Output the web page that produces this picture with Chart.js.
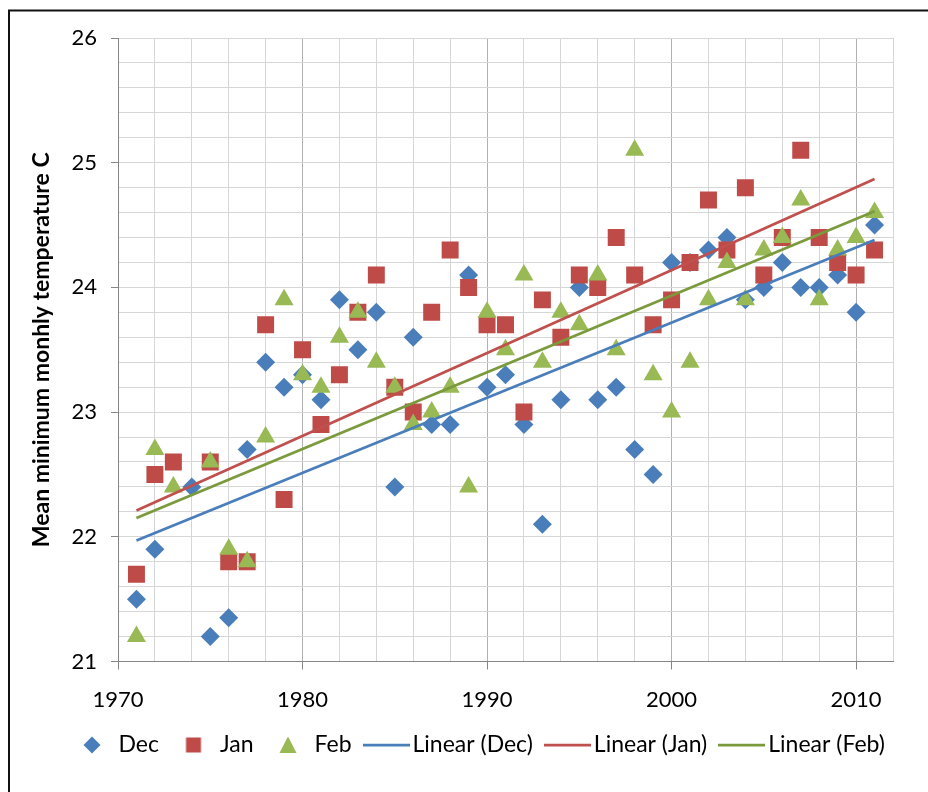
<!DOCTYPE html>
<html>
<head>
<meta charset="utf-8">
<style>
  html, body { margin: 0; padding: 0; background: #fff; }
  #wrap { width: 928px; height: 792px; }
</style>
<script src="https://cdn.jsdelivr.net/npm/chart.js@4/dist/chart.umd.min.js"></script>
</head>
<body>
<div id="wrap"><canvas id="chart" width="928" height="792"></canvas></div>
<script>
// Mean minimum monthly temperature (°C) for the summer months, by year
const years = [1971, 1972, 1973, 1974, 1975, 1976, 1977, 1978, 1979, 1980,
               1981, 1982, 1983, 1984, 1985, 1986, 1987, 1988, 1989, 1990,
               1991, 1992, 1993, 1994, 1995, 1996, 1997, 1998, 1999, 2000,
               2001, 2002, 2003, 2004, 2005, 2006, 2007, 2008, 2009, 2010, 2011];

const decTemps = [21.5, 21.9, null, 22.4, 21.2, 21.35, 22.7, 23.4, 23.2, 23.3,
                  23.1, 23.9, 23.5, 23.8, 22.4, 23.6, 22.9, 22.9, 24.1, 23.2,
                  23.3, 22.9, 22.1, 23.1, 24.0, 23.1, 23.2, 22.7, 22.5, 24.2,
                  24.2, 24.3, 24.4, 23.9, 24.0, 24.2, 24.0, 24.0, 24.1, 23.8, 24.5];

const janTemps = [21.7, 22.5, 22.6, null, 22.6, 21.8, 21.8, 23.7, 22.3, 23.5,
                  22.9, 23.3, 23.8, 24.1, 23.2, 23.0, 23.8, 24.3, 24.0, 23.7,
                  23.7, 23.0, 23.9, 23.6, 24.1, 24.0, 24.4, 24.1, 23.7, 23.9,
                  24.2, 24.7, 24.3, 24.8, 24.1, 24.4, 25.1, 24.4, 24.2, 24.1, 24.3];

const febTemps = [21.2, 22.7, 22.4, null, 22.6, 21.9, 21.8, 22.8, 23.9, 23.3,
                  23.2, 23.6, 23.8, 23.4, 23.2, 22.9, 23.0, 23.2, 22.4, 23.8,
                  23.5, 24.1, 23.4, 23.8, 23.7, 24.1, 23.5, 25.1, 23.3, 23.0,
                  23.4, 23.9, 24.2, 23.9, 24.3, 24.4, 24.7, 23.9, 24.3, 24.4, 24.6];

// linear trend lines: value at the first and last year
const trendYears = [1971, 2011];
const decTrend = [21.97, 24.38];
const janTrend = [22.21, 24.87];
const febTrend = [22.15, 24.61];

const seriesNames = ['Dec', 'Jan', 'Feb'];
const trendNames = ['Linear (Dec)', 'Linear (Jan)', 'Linear (Feb)'];
const yearTicks = [1970, 1980, 1990, 2000, 2010];
const tempTicks = [21, 22, 23, 24, 25, 26];
const yTitle = 'Mean minimum monhly temperature C';

// ---- styling ----
const FONT = 'Lato';
const markerColors = ['#4A7EBB', '#BE4B48', '#98B954'];
const trendColors = ['#4A7EBB', '#C0504D', '#7A9A3C'];

function points(xs, values) {
  const out = [];
  xs.forEach((x, i) => { if (values[i] !== null) out.push({ x: x, y: values[i] }); });
  return out;
}

// small images used as legend symbols
function markerImage(kind, color) {
  const c = document.createElement('canvas');
  c.width = 20; c.height = 20;
  const g = c.getContext('2d');
  g.fillStyle = color;
  g.beginPath();
  if (kind === 'diamond') {
    g.moveTo(10, 1.5); g.lineTo(18.5, 10); g.lineTo(10, 18.5); g.lineTo(1.5, 10);
  } else if (kind === 'square') {
    g.rect(2.5, 2.5, 15, 15);
  } else {
    g.moveTo(10, 1.5); g.lineTo(18.5, 18); g.lineTo(1.5, 18);
  }
  g.closePath();
  g.fill();
  return c;
}
function lineImage(color) {
  const c = document.createElement('canvas');
  c.width = 47; c.height = 6;
  const g = c.getContext('2d');
  g.strokeStyle = color;
  g.lineWidth = 2.75;
  g.beginPath(); g.moveTo(0, 3); g.lineTo(47, 3); g.stroke();
  return c;
}
const legendSymbols = [
  markerImage('diamond', markerColors[0]),
  markerImage('square', markerColors[1]),
  markerImage('triangle', markerColors[2]),
  lineImage(trendColors[0]),
  lineImage(trendColors[1]),
  lineImage(trendColors[2])
];

const allSeries = [decTemps, janTemps, febTemps];
const allTrends = [decTrend, janTrend, febTrend];
const pointStyles = ['rectRot', 'rect', 'triangle'];
const pointRadii = [9.5, 12, 11];

const datasets = [];
allSeries.forEach((vals, i) => {
  datasets.push({
    type: 'scatter',
    label: seriesNames[i],
    data: points(years, vals),
    pointStyle: pointStyles[i],
    pointRadius: pointRadii[i],
    pointHoverRadius: pointRadii[i],
    backgroundColor: markerColors[i],
    borderColor: markerColors[i],
    borderWidth: 0,
    order: 3 - i
  });
});
allTrends.forEach((vals, i) => {
  datasets.push({
    type: 'line',
    label: trendNames[i],
    data: points(trendYears, vals),
    borderColor: trendColors[i],
    backgroundColor: trendColors[i],
    borderWidth: 2.75,
    pointRadius: 0,
    fill: false,
    order: 0
  });
});

const isInt = v => Math.abs(v - Math.round(v)) < 1e-6;

// outer frame of the chart
const framePlugin = {
  id: 'frame',
  beforeDraw(chart) {
    const ctx = chart.ctx;
    ctx.save();
    ctx.fillStyle = '#fff';
    ctx.fillRect(0, 0, chart.width, chart.height);
    ctx.strokeStyle = '#111';
    ctx.lineWidth = 2;
    ctx.beginPath();
    ctx.moveTo(9, chart.height + 5);
    ctx.lineTo(9, 10.5);
    ctx.lineTo(chart.width + 5, 10.5);
    ctx.stroke();
    ctx.restore();
  }
};

// start the legend row at a fixed left position
const LEGEND_START = 77;
const LEGEND_PAD = 19.5;
const legendShift = {
  id: 'legendShift',
  afterLayout(chart) {
    const lg = chart.legend;
    if (!lg) return;
    const dx = LEGEND_START - (lg.left + LEGEND_PAD);
    lg.left += dx; lg.right += dx;
  }
};

new Chart(document.getElementById('chart'), {
  type: 'scatter',
  data: { datasets },
  plugins: [framePlugin, legendShift],
  options: {
    responsive: false,
    animation: false,
    events: [],
    layout: { padding: { left: 0, right: 35, top: 38, bottom: 25.5 } },
    plugins: {
      tooltip: { enabled: false },
      legend: {
        position: 'bottom',
        align: 'start',
        labels: {
          usePointStyle: true,
          pointStyleWidth: 30,
          padding: LEGEND_PAD,
          color: '#000',
          font: { family: FONT, size: 23 },
          sort: (a, b) => a.datasetIndex - b.datasetIndex,
          generateLabels(chart) {
            const items = Chart.defaults.plugins.legend.labels.generateLabels(chart);
            items.forEach(it => { it.pointStyle = legendSymbols[it.datasetIndex]; it.lineWidth = 1; });
            return items;
          }
        }
      }
    },
    scales: {
      x: {
        type: 'linear',
        min: 1970,
        max: 2012,
        afterFit: s => { s.height = 52.5; },
        ticks: {
          stepSize: 2,
          autoSkip: false,
          maxRotation: 0,
          padding: 17,
          color: '#000',
          font: { family: FONT, size: 22 },
          callback: v => (yearTicks.includes(v) ? String(v) : '')
        },
        grid: {
          color: c => (c.tick && yearTicks.includes(c.tick.value) ? '#b0b0b0' : '#d6d6d6'),
          lineWidth: 1,
          tickLength: 8,
          tickColor: c => (c.tick && yearTicks.includes(c.tick.value) ? '#868686' : 'rgba(0,0,0,0)')
        },
        border: { color: '#868686', width: 1 }
      },
      y: {
        type: 'linear',
        min: 21,
        max: 26,
        afterFit: s => { s.width = 118; },
        ticks: {
          stepSize: 0.2,
          autoSkip: false,
          maxTicksLimit: 100,
          padding: 14,
          color: '#000',
          font: { family: FONT, size: 22 },
          callback: v => (isInt(v) && tempTicks.includes(Math.round(v)) ? String(Math.round(v)) : '')
        },
        grid: {
          color: '#d6d6d6',
          lineWidth: 1,
          tickLength: 7,
          tickColor: c => (c.tick && isInt(c.tick.value) ? '#868686' : 'rgba(0,0,0,0)')
        },
        border: { color: '#868686', width: 1 },
        title: {
          display: true,
          text: yTitle,
          color: '#000',
          padding: { top: 28, bottom: 0 },
          font: { family: FONT, size: 23, weight: 'bold' }
        }
      }
    }
  }
});
</script>
</body>
</html>
